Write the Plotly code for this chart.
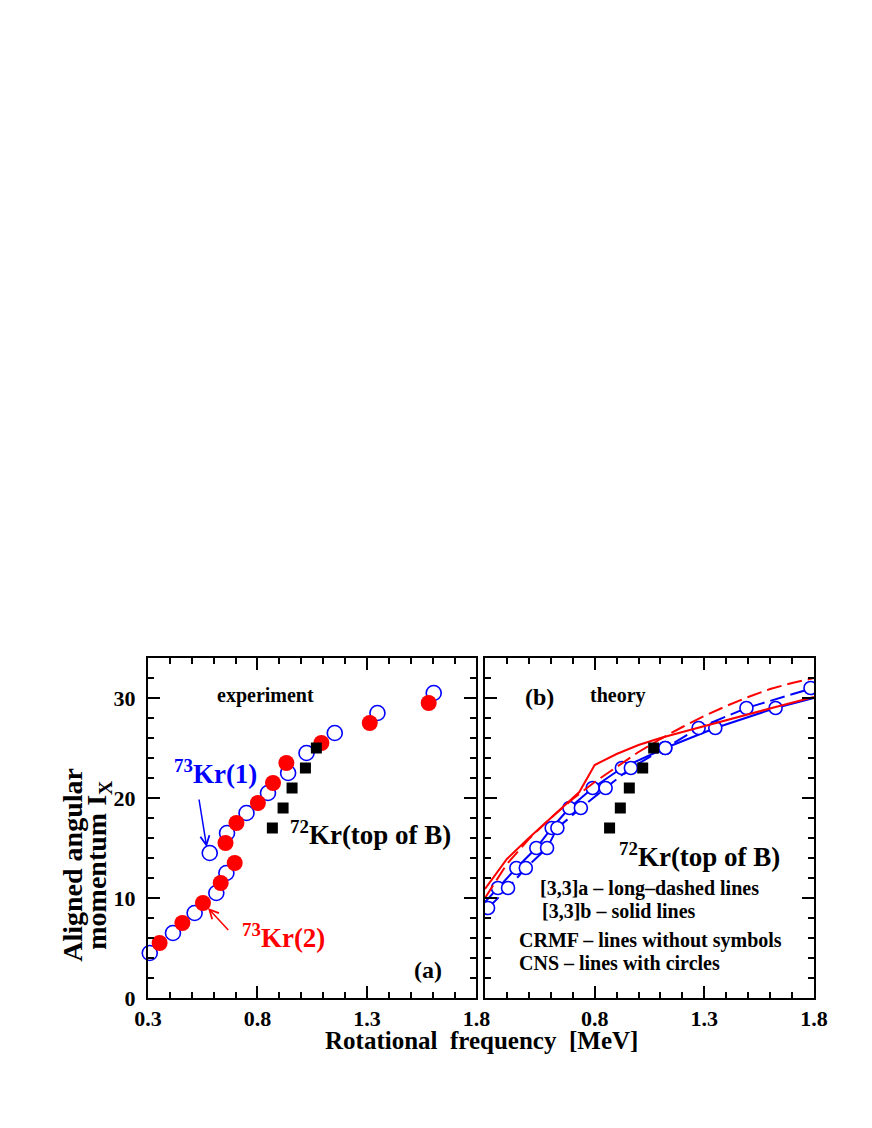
"""
    Aligned angular momentum vs rotational frequency, 73Kr / 72Kr
"""
##########==========##########==========##########==========##########==========
## header

import plotly.graph_objects as go

## experiment: 73Kr(1) (open blue circles)
omega_kr73_1 = [0.308, 0.414, 0.513, 0.612, 0.658, 0.582, 0.661, 0.750, 0.848,
                0.940, 1.024, 1.153, 1.348, 1.605]
spin_kr73_1 = [4.5, 6.5, 8.5, 10.5, 12.5, 14.5, 16.5, 18.5, 20.5,
               22.5, 24.5, 26.5, 28.5, 30.5]

## experiment: 73Kr(2) (filled red circles)
omega_kr73_2 = [0.353, 0.457, 0.551, 0.632, 0.696, 0.654, 0.704, 0.802, 0.871,
                0.932, 1.092, 1.313, 1.582]
spin_kr73_2 = [5.5, 7.5, 9.5, 11.5, 13.5, 15.5, 17.5, 19.5, 21.5,
               23.5, 25.5, 27.5, 29.5]

## experiment: 72Kr top of band B (black squares)
omega_kr72 = [0.868, 0.917, 0.958, 1.019, 1.069]
spin_kr72 = [17, 19, 21, 23, 25]

## theory: CRMF [3,3]a (long-dashed) and [3,3]b (solid)
omega_crmf_a = [0.30, 0.40, 0.50, 0.60, 0.70, 0.80, 0.90, 1.00, 1.10, 1.20,
                1.30, 1.40, 1.50, 1.60, 1.70, 1.80]
spin_crmf_a = [10.0, 13.4, 15.9, 18.0, 19.9, 21.6, 23.1, 24.6, 25.9, 27.1,
               28.2, 29.2, 30.1, 30.9, 31.5, 32.0]
omega_crmf_b = [0.30, 0.40, 0.50, 0.60, 0.70, 0.73, 0.80, 0.90, 1.00, 1.10,
                1.20, 1.35, 1.50, 1.625, 1.80]
spin_crmf_b = [10.9, 13.9, 16.0, 18.0, 19.9, 20.6, 23.3, 24.4, 25.3, 26.0,
               26.6, 27.5, 28.4, 29.1, 30.1]

## theory: CNS [3,3]a (long-dashed) and [3,3]b (solid)
omega_cns_a = [0.314, 0.405, 0.486, 0.583, 0.630, 0.737, 0.850, 0.965, 1.122,
               1.274, 1.492, 1.784, 2.100]
spin_cns_a = [9, 11, 13, 15, 17, 19, 21, 23, 25, 27, 29, 31, 33]
omega_cns_b = [0.275, 0.359, 0.443, 0.534, 0.604, 0.685, 0.791, 0.924, 1.122,
               1.350, 1.625, 1.975]
spin_cns_b = [9, 11, 13, 15, 17, 19, 21, 23, 25, 27, 29, 31]

## axis ticks
x_ticks = [0.3, 0.8, 1.3, 1.8]
y_ticks = [0, 10, 20, 30]

## set parameters (page body adds an 8 px margin, so the figure is 16 px smaller)
params = dict(
    width = 872 - 16,
    height = 1128 - 16,
    font = 'Liberation Serif, Times New Roman, serif',
    blue = '#0000ff',
    red = '#ff0000',
    black = '#000000',
    dash = '15px,6px'
)

##########==========##########==========##########==========##########==========
## traces

fig = go.Figure()

## panel (a): experiment
fig.add_trace(go.Scatter(
    x = omega_kr73_1, y = spin_kr73_1, mode = 'markers', cliponaxis = False,
    marker = dict(symbol = 'circle-open', size = 15, color = params['blue'],
                  line = dict(width = 1.6)),
    xaxis = 'x', yaxis = 'y'))
fig.add_trace(go.Scatter(
    x = omega_kr73_2, y = spin_kr73_2, mode = 'markers', cliponaxis = False,
    marker = dict(symbol = 'circle', size = 16, color = params['red'],
                  line = dict(width = 0)),
    xaxis = 'x', yaxis = 'y'))
fig.add_trace(go.Scatter(
    x = omega_kr72, y = spin_kr72, mode = 'markers', cliponaxis = False,
    marker = dict(symbol = 'square', size = 11, color = params['black']),
    xaxis = 'x', yaxis = 'y'))

## panel (b): theory
cns_marker = dict(symbol = 'circle', size = 13, color = 'white',
                  line = dict(color = params['blue'], width = 1.6))
fig.add_trace(go.Scatter(
    x = omega_cns_b, y = spin_cns_b, mode = 'lines+markers',
    line = dict(color = params['blue'], width = 2), marker = cns_marker,
    xaxis = 'x2', yaxis = 'y2'))
fig.add_trace(go.Scatter(
    x = omega_cns_a, y = spin_cns_a, mode = 'lines+markers',
    line = dict(color = params['blue'], width = 2, dash = params['dash']),
    marker = cns_marker, xaxis = 'x2', yaxis = 'y2'))
fig.add_trace(go.Scatter(
    x = omega_crmf_b, y = spin_crmf_b, mode = 'lines',
    line = dict(color = params['red'], width = 2),
    xaxis = 'x2', yaxis = 'y2'))
fig.add_trace(go.Scatter(
    x = omega_crmf_a, y = spin_crmf_a, mode = 'lines',
    line = dict(color = params['red'], width = 2, dash = params['dash']),
    xaxis = 'x2', yaxis = 'y2'))
fig.add_trace(go.Scatter(
    x = omega_kr72, y = spin_kr72, mode = 'markers',
    marker = dict(symbol = 'square', size = 11, color = params['black']),
    xaxis = 'x2', yaxis = 'y2'))

##########==========##########==========##########==========##########==========
## axes

tick_font = dict(family = params['font'], size = 22, color = 'black', weight = 'bold')
axis_common = dict(
    showline = True, linewidth = 2, linecolor = 'black', mirror = 'allticks',
    ticks = 'inside', ticklen = 12, tickwidth = 2, tickcolor = 'black',
    showgrid = False, zeroline = False, tickfont = tick_font
)
x_common = dict(axis_common, range = [0.3, 1.8], tickmode = 'array', tickvals = x_ticks,
                ticklabelstandoff = 0,
                minor = dict(ticks = 'inside', ticklen = 6, tickwidth = 2,
                             tickcolor = 'black', tick0 = 0.3, dtick = 0.1))
y_common = dict(axis_common, range = [0, 34], tickmode = 'array', tickvals = y_ticks,
                ticklabelstandoff = 6,
                minor = dict(ticks = 'inside', ticklen = 6, tickwidth = 2,
                             tickcolor = 'black', tick0 = 0, dtick = 2))

fig.update_layout(
    width = params['width'], height = params['height'],
    margin = dict(l = 140, r = 50, t = 650, b = 122),
    paper_bgcolor = 'white', plot_bgcolor = 'white',
    showlegend = False,
    font = dict(family = params['font'], color = 'black'),
    xaxis = dict(x_common, domain = [0, 0.4931], anchor = 'y',
                 ticktext = [str(v) for v in x_ticks]),
    xaxis2 = dict(x_common, domain = [0.506, 1], anchor = 'y2',
                  ticktext = [''] + [str(v) for v in x_ticks[1:]]),
    yaxis = dict(y_common, anchor = 'x'),
    yaxis2 = dict(y_common, anchor = 'x2', showticklabels = False),
)

##########==========##########==========##########==========##########==========
## annotations

def label(text, x, y, ref = '', size = 20, color = 'black', xanchor = 'center'):
    return dict(text = text, x = x, y = y, xref = 'x' + ref, yref = 'y' + ref,
                showarrow = False, xanchor = xanchor, yanchor = 'middle',
                font = dict(family = params['font'], size = size, color = color,
                            weight = 'bold'))

def arrow(x, y, ax, ay, color):
    return dict(text = '', x = x, y = y, ax = ax, ay = ay, xref = 'x', yref = 'y',
                axref = 'x', ayref = 'y', showarrow = True, arrowhead = 5,
                arrowsize = 1.2, arrowwidth = 1.5, arrowcolor = color, standoff = 0)

annotations = [
    label('experiment', 0.838, 30.3),
    label('(a)', 1.578, 2.8, size = 24),
    label('<sup>73</sup>Kr(1)', 0.409, 22.6, size = 27, color = params['blue'], xanchor = 'left'),
    label('<sup>73</sup>Kr(2)', 0.719, 6.2, size = 27, color = params['red'], xanchor = 'left'),
    label('<sup>72</sup>Kr(top of B)', 0.938, 16.5, size = 27, xanchor = 'left'),
    arrow(0.568, 15.1, 0.532, 20.0, params['blue']),
    arrow(0.574, 9.0, 0.673, 6.66, params['red']),
    label('(b)', 0.547, 30.1, ref = '2', size = 24),
    label('theory', 0.905, 30.3, ref = '2'),
    label('<sup>72</sup>Kr(top of B)', 0.903, 14.3, ref = '2', size = 27, xanchor = 'left'),
    label('[3,3]a \u2013 long\u2013dashed lines', 0.542, 11.0, ref = '2', xanchor = 'left'),
    label('[3,3]b \u2013 solid lines', 0.551, 8.66, ref = '2', xanchor = 'left'),
    label('CRMF \u2013 lines without symbols', 0.445, 5.8, ref = '2', xanchor = 'left'),
    label('CNS \u2013 lines with circles', 0.445, 3.5, ref = '2', xanchor = 'left'),
]

## axis titles
title_font = dict(family = params['font'], size = 25, color = 'black', weight = 'bold')
annotations += [
    dict(text = 'Rotational\u00a0 frequency\u00a0 [MeV]', x = 0.5015, y = -0.126,
         xref = 'paper', yref = 'paper', showarrow = False,
         xanchor = 'center', yanchor = 'middle', font = title_font),
    dict(text = 'Aligned angular', x = -0.1126, y = 0.392, textangle = -90,
         xref = 'paper', yref = 'paper', showarrow = False,
         xanchor = 'center', yanchor = 'middle', font = dict(title_font, size = 28)),
    dict(text = 'momentum I<sub>X</sub>', x = -0.0736, y = 0.392, textangle = -90,
         xref = 'paper', yref = 'paper', showarrow = False,
         xanchor = 'center', yanchor = 'middle', font = dict(title_font, size = 28)),
]
fig.update_layout(annotations = annotations)

##########==========##########==========##########==========##########==========
## write result to disk

fig.write_html('out.html')
